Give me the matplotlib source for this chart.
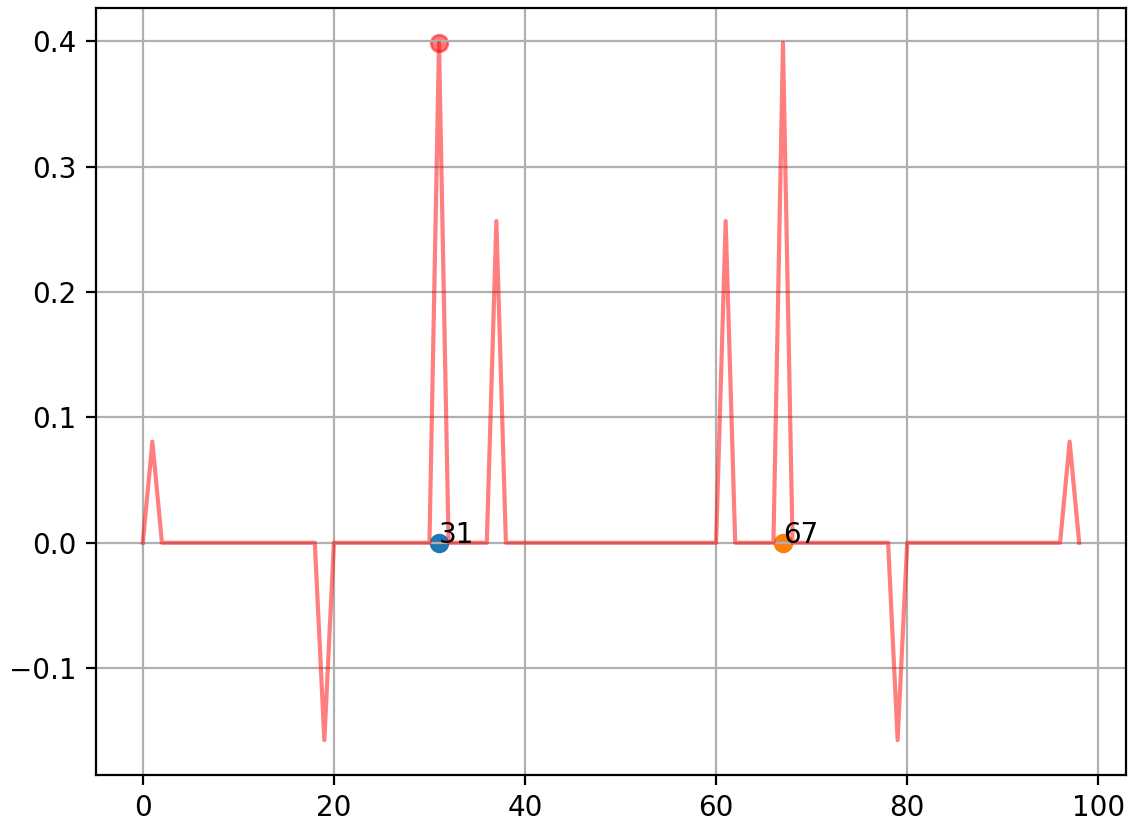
import matplotlib
matplotlib.use("Agg")
import matplotlib.pyplot as plt

x = list(range(99))
spike_pos = [1, 19, 31, 37, 61, 67, 79, 97]
spike_val = [0.0807, -0.1575, 0.3989, 0.2567, 0.2567, 0.3989, -0.1575, 0.0807]
y = [0.0] * 99
for p, v in zip(spike_pos, spike_val):
    y[p] = v

peak_x = [31]
peak_y = [0.3989]
marks_x = [31, 67]
marks_y = [0.0, 0.0]
marks_labels = ["31", "67"]

fig = plt.figure(figsize=(1128 / 200, 823 / 200), dpi=200)
ax = fig.add_axes([96 / 1128, 1 - 775 / 823, (1126 - 96) / 1128, (775 - 8) / 823])
ax.plot(x, y, color="red", alpha=0.5)
ax.scatter(peak_x, peak_y, color="red", alpha=0.5)
for mx, my, lab in zip(marks_x, marks_y, marks_labels):
    ax.scatter([mx], [my])
    ax.text(mx, my, lab)
ax.grid(True)
fig.savefig("out.png", dpi=200)
